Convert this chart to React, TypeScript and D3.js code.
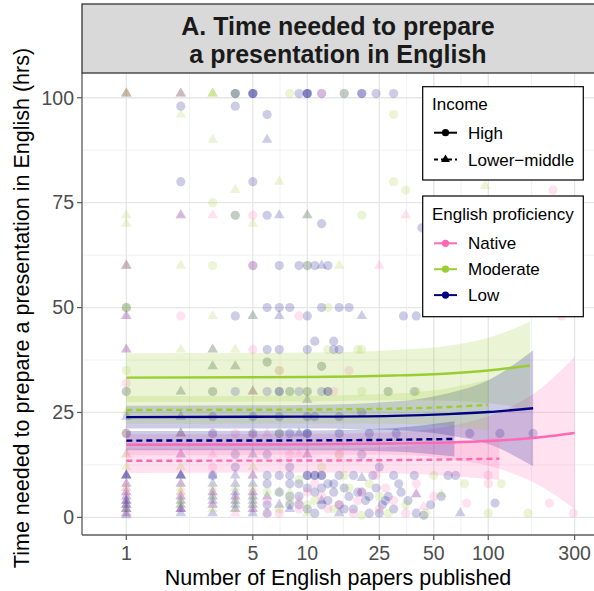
import React from "react";
import * as d3 from "d3";

// ---- chart data ----------------------------------------------------------
const proficiencyLevels = ["Native", "Moderate", "Low"];
const proficiencyColors: Record<string, string> = {
  Native: "#FF69B4",
  Moderate: "#9ACD32",
  Low: "#000080",
};
const incomeLevels = ["High", "Lower\u2212middle"];

const xTicks = [1, 5, 10, 25, 50, 100, 300];
const yTicks = [0, 25, 50, 75, 100];

// Individual responses: [English papers published, hours to prepare]
const highNative: [number, number][] = [
  [12, 101], [5, 72], [228, 78], [5, 60], [2, 48], [9, 48], [254, 48], [5, 40], [7, 35], [17, 35],
  [1, 32], [14, 30], [4, 20], [15, 15], [100, 10], [100, 8], [76, 3.4], [218, 3.4], [295, 1],
  [12, 5], [6, 4], [9, 2], [15, 3], [20, 6], [25, 2], [30, 4], [18, 1], [40, 8], [11, 8], [7, 1],
  [50, 5], [24, 10], [1, 20], [3, 12], [8, 15], [13, 2], [19, 4], [27, 7], [35, 1], [10, 6],
];
const highModerate: [number, number][] = [
  [4, 101], [8, 101], [16, 101], [30, 96], [3, 75], [35, 78], [30, 80], [4, 72], [20, 72], [3, 60],
  [10, 60], [1, 50], [13, 50], [13, 40], [19, 40], [20, 40], [6, 37], [12, 36], [1, 35], [7, 35],
  [3, 30], [8, 30], [10, 30], [20, 30], [28, 30], [40, 30], [1, 30], [1, 20], [7, 20], [15, 15],
  [74, 8], [118, 8], [100, 1], [166, 1], [10, 3], [8, 4], [14, 2], [25, 5], [35, 3], [45, 1],
  [20, 0.5], [12, 12], [6, 6], [9, 9], [16, 10], [50, 10], [22, 8], [28, 1], [11, 4], [17, 7],
  [7, 2],
];
const highLow: [number, number][] = [
  [2, 98], [4, 98], [4, 101], [4, 101], [5, 101], [5, 101], [5, 101], [9, 101], [10, 101], [10, 101],
  [10, 101], [12, 101], [16, 101], [20, 101], [20, 101], [24, 101], [30, 101], [6, 96],
  [2, 80], [5, 80], [4, 72], [6, 72], [12, 70], [43, 69],
  [5, 60], [7, 60], [9, 60], [10, 60], [11, 60], [13, 60],
  [1, 50], [6, 50], [7, 50], [8, 50], [12, 50], [15, 50], [17, 50],
  [4, 48], [10, 48], [34, 48], [40, 48], [11, 42], [14, 42],
  [6, 40], [7, 40], [10, 40], [14, 40], [15, 40], [6, 37], [12, 36],
  [1, 30], [3, 30], [4, 30], [6, 30], [7, 30], [7, 30], [8, 30], [9, 30], [10, 30], [12, 30],
  [13, 30], [13, 30], [28, 30], [39, 30],
  [3, 24], [5, 24], [7, 24], [10, 24], [11, 24], [15, 24], [20, 25],
  [1, 20], [3, 20], [5, 20], [7, 20], [8, 20], [10, 20], [10, 20], [15, 20], [22, 20], [31, 20],
  [79, 20], [116, 20], [177, 20],
  [4, 15], [6, 15], [20, 15], [4, 12], [8, 12], [25, 12],
  [3, 10], [6, 10], [7, 10], [8, 10], [10, 10], [10, 10], [11, 10], [11, 10], [12, 10], [12, 10],
  [15, 10], [18, 10], [23, 10], [30, 10], [39, 10], [60, 10], [66, 10],
  [6, 8], [8, 8], [9, 5], [8, 5], [6, 3], [8, 3], [10, 7], [11, 6], [12, 7], [13, 8], [13, 4],
  [14, 6], [15, 3], [16, 7], [17, 5], [18, 2], [20, 6], [21, 4], [22, 1], [24, 7], [26, 3],
  [28, 5], [30, 2], [33, 6], [36, 4], [40, 1], [44, 0.5], [48, 3], [55, 5], [109, 3.4],
  [9, 8], [10, 2], [11, 1], [12, 3], [14, 8], [16, 2], [19, 6], [22, 5], [25, 1], [27, 4],
  [32, 8], [7, 6], [6, 1], [9, 3],
];
const lowerNative: [number, number][] = [
  [1, 101], [2, 101], [2, 72], [3, 72], [35, 72], [25, 60], [1, 60], [1, 48], [1, 40], [5, 30],
  [2, 20], [5, 20], [6, 20], [1, 15], [2, 15], [3, 15], [9, 15], [10, 15], [3, 20],
  [1, 8], [1, 6], [1, 5], [1, 3], [1, 1], [2, 8], [2, 5], [2, 2], [3, 3], [4, 5], [4, 1],
  [5, 10], [5, 6], [5, 2], [40, 5.5], [44, 2.5], [9, 4], [6, 1], [1, 7], [2, 6], [3, 6],
];
const lowerModerate: [number, number][] = [
  [1, 101], [1, 101], [2, 101], [3, 101], [3, 101], [3, 101], [2, 96], [3, 90], [7, 80], [4, 78],
  [1, 72], [10, 72], [1, 70], [5, 70], [96, 79], [1, 60], [2, 60], [15, 60], [1, 50], [3, 48],
  [5, 48], [2, 40], [3, 40], [4, 40], [3, 36], [4, 36], [2, 30], [5, 30], [1, 25], [2, 20],
  [1, 12], [1, 15], [1, 7], [1, 2], [2, 12], [2, 7], [2, 6], [2, 4], [2, 3], [3, 7], [3, 5],
  [3, 2], [4, 7], [4, 4], [4, 2], [5, 12], [5, 7], [5, 5], [5, 3], [7, 6], [55, 5.5], [10, 1],
  [8, 6],
];
const lowerLow: [number, number][] = [
  [1, 101], [2, 101], [6, 90], [2, 72], [7, 72], [10, 72], [1, 60], [12, 60], [1, 48], [5, 48],
  [7, 48], [20, 48], [1, 40], [3, 40], [3, 36], [4, 36], [2, 30], [5, 30], [10, 28], [1, 24],
  [2, 24], [9, 20], [10, 15], [2, 20],
  [1, 10], [1, 10], [1, 10], [1, 8], [1, 6], [1, 5], [1, 4], [1, 4], [1, 3], [1, 3], [1, 2], [1, 2],
  [1, 1], [1, 0.5],
  [2, 15], [2, 10], [2, 10], [2, 10], [2, 8], [2, 5], [2, 4], [2, 3], [2, 2], [2, 2], [2, 1],
  [3, 8], [3, 6], [3, 5], [3, 4], [3, 3], [3, 1], [3, 10],
  [4, 10], [4, 8], [4, 6], [4, 5], [4, 3], [4, 2], [4, 4],
  [5, 15], [5, 10], [5, 8], [5, 6], [5, 5], [5, 4], [5, 3], [5, 2], [5, 1],
  [6, 5], [7, 3], [8, 2], [20, 9.4], [40, 5.5], [70, 1], [12, 4], [15, 1],
];

// Fitted trends: [papers, fit, lower 95% CI, upper 95% CI]
const fitHighNative: [number, number, number, number][] = [
  [1, 17.3, 14.8, 19.8], [10, 17.4, 14.9, 19.9], [30, 17.6, 14.9, 20.3], [60, 17.85, 14.0, 21.7],
  [100, 18.2, 12.3, 24.1], [200, 19.15, 7.2, 31.1], [300, 20.1, 2.0, 38.2],
];
const fitHighModerate: [number, number, number, number][] = [
  [1, 33.3, 27.5, 39.1], [10, 33.45, 27.6, 39.3], [30, 33.8, 27.9, 39.9], [60, 34.3, 27.8, 40.9],
  [100, 35.0, 27.2, 42.8], [170, 36.2, 25.8, 46.6],
];
const fitHighLow: [number, number, number, number][] = [
  [1, 23.9, 21.2, 26.6], [10, 24.0, 21.2, 26.8], [30, 24.2, 20.8, 27.6], [60, 24.6, 19.6, 29.6],
  [100, 25.1, 17.5, 32.7], [177, 26.0, 12.2, 39.8],
];
const fitLowerNative: [number, number, number, number][] = [
  [1, 13.5, 10.6, 16.4], [10, 13.55, 10.7, 16.4], [30, 13.65, 10.5, 16.8], [60, 13.8, 9.9, 17.7],
  [115, 14.0, 8.9, 19.1],
];
const fitLowerModerate: [number, number, number, number][] = [
  [1, 25.6, 22.3, 28.9], [10, 25.7, 22.4, 29.0], [30, 25.9, 22.3, 29.5], [60, 26.3, 21.8, 30.8],
  [100, 26.8, 20.8, 32.8],
];
const fitLowerLow: [number, number, number, number][] = [
  [1, 18.3, 16.0, 20.6], [10, 18.35, 16.0, 20.7], [30, 18.5, 15.7, 21.3], [65, 18.7, 14.5, 22.9],
];

// ---- layout --------------------------------------------------------------
const W = 594;
const H = 591;
const P = { left: 82, right: 594, top: 73, bottom: 535 };
const FONT = "'Liberation Sans', Arial, Helvetica, sans-serif";

const x = d3.scaleLog().domain([0.569, 384]).range([P.left, P.right]);
const y = d3.scaleLinear().domain([-4.2, 105.9]).range([P.bottom, P.top]);

const xMinor = d3.pairs(xTicks).map(([a, b]) => Math.sqrt(a * b));
const yMinor = d3.pairs(yTicks).map(([a, b]) => (a + b) / 2);

const pointGroups = [
  { data: lowerLow, shape: "tri", prof: "Low" },
  { data: highLow, shape: "circle", prof: "Low" },
  { data: lowerModerate, shape: "tri", prof: "Moderate" },
  { data: highModerate, shape: "circle", prof: "Moderate" },
  { data: lowerNative, shape: "tri", prof: "Native" },
  { data: highNative, shape: "circle", prof: "Native" },
];

const fitGroups = [
  { data: fitHighNative, income: "High", prof: "Native" },
  { data: fitHighModerate, income: "High", prof: "Moderate" },
  { data: fitHighLow, income: "High", prof: "Low" },
  { data: fitLowerNative, income: "Lower\u2212middle", prof: "Native" },
  { data: fitLowerModerate, income: "Lower\u2212middle", prof: "Moderate" },
  { data: fitLowerLow, income: "Lower\u2212middle", prof: "Low" },
];

const triPath = d3.symbol().type(d3.symbolTriangle).size(48)() as string;
const keyTri = d3.symbol().type(d3.symbolTriangle).size(34)() as string;

const ribbon = d3
  .area<[number, number, number, number]>()
  .x((d) => x(d[0]))
  .y0((d) => y(d[2]))
  .y1((d) => y(d[3]))
  .curve(d3.curveMonotoneX);
const fitLine = d3
  .line<[number, number, number, number]>()
  .x((d) => x(d[0]))
  .y((d) => y(d[1]))
  .curve(d3.curveMonotoneX);

export default function App() {
  const legendX = 422.7;
  const keyX0 = 434;
  const keyX1 = 457;
  const keyMid = 445.5;
  const textX = 468;
  return (
    <svg
      width={W}
      height={H}
      viewBox={`0 0 ${W} ${H}`}
      style={{ position: "absolute", left: 0, top: 0, background: "#fff" }}
      fontFamily={FONT}
    >
      <rect x={0} y={0} width={W} height={H} fill="#fff" />
      <defs>
        <clipPath id="panel-clip">
          <rect x={P.left} y={P.top} width={P.right - P.left} height={P.bottom - P.top} />
        </clipPath>
      </defs>

      {/* grid */}
      <g>
        {yMinor.map((v) => (
          <line key={"ym" + v} x1={P.left} x2={P.right} y1={y(v)} y2={y(v)} stroke="#EDEDED" strokeWidth={0.8} />
        ))}
        {xMinor.map((v) => (
          <line key={"xm" + v} x1={x(v)} x2={x(v)} y1={P.top} y2={P.bottom} stroke="#EDEDED" strokeWidth={0.8} />
        ))}
        {yTicks.map((v) => (
          <line key={"yM" + v} x1={P.left} x2={P.right} y1={y(v)} y2={y(v)} stroke="#E6E6E6" strokeWidth={1.3} />
        ))}
        {xTicks.map((v) => (
          <line key={"xM" + v} x1={x(v)} x2={x(v)} y1={P.top} y2={P.bottom} stroke="#E6E6E6" strokeWidth={1.3} />
        ))}
      </g>

      {/* raw responses */}
      <g clipPath="url(#panel-clip)">
        {pointGroups.map((g, gi) =>
          g.data.map((d, i) =>
            g.shape === "circle" ? (
              <circle
                key={gi + "-" + i}
                cx={x(d[0])}
                cy={y(d[1])}
                r={4.6}
                fill={proficiencyColors[g.prof]}
                fillOpacity={0.2}
              />
            ) : (
              <path
                key={gi + "-" + i}
                d={triPath}
                transform={`translate(${x(d[0])},${y(d[1])})`}
                fill={proficiencyColors[g.prof]}
                fillOpacity={0.2}
              />
            )
          )
        )}
      </g>

      {/* confidence ribbons */}
      <g clipPath="url(#panel-clip)">
        {fitGroups.map((g, i) => (
          <path key={"rb" + i} d={ribbon(g.data) as string} fill={proficiencyColors[g.prof]} fillOpacity={0.2} />
        ))}
      </g>

      {/* fitted lines */}
      <g clipPath="url(#panel-clip)">
        {fitGroups.map((g, i) => (
          <path
            key={"ln" + i}
            d={fitLine(g.data) as string}
            fill="none"
            stroke={proficiencyColors[g.prof]}
            strokeWidth={2.4}
            strokeDasharray={g.income === "High" ? undefined : "6 4"}
          />
        ))}
      </g>

      {/* axes */}
      <line x1={P.left} x2={P.left} y1={P.top} y2={P.bottom} stroke="#5A5A5A" strokeWidth={1.3} />
      <line x1={P.left} x2={P.right} y1={P.bottom} y2={P.bottom} stroke="#5A5A5A" strokeWidth={1.3} />
      {yTicks.map((v) => (
        <g key={"yt" + v}>
          <line x1={P.left - 5} x2={P.left} y1={y(v)} y2={y(v)} stroke="#5A5A5A" strokeWidth={1.2} />
          <text x={P.left - 8} y={y(v)} dy="0.35em" textAnchor="end" fontSize={19.5} fill="#4D4D4D">
            {v}
          </text>
        </g>
      ))}
      {xTicks.map((v) => (
        <g key={"xt" + v}>
          <line x1={x(v)} x2={x(v)} y1={P.bottom} y2={P.bottom + 5} stroke="#5A5A5A" strokeWidth={1.2} />
          <text x={x(v)} y={560} textAnchor="middle" fontSize={19.5} fill="#4D4D4D">
            {v}
          </text>
        </g>
      ))}
      <text x={(P.left + P.right) / 2} y={585} textAnchor="middle" fontSize={21.5} fill="#000">
        Number of English papers published
      </text>
      <text transform={`translate(29,${(P.top + P.bottom) / 2 + 4}) rotate(-90)`} textAnchor="middle" fontSize={21.5} fill="#000">
        Time needed to prepare a presentation in English (hrs)
      </text>

      {/* facet strip */}
      <rect x={P.left} y={4} width={W - P.left + 10} height={P.top - 4} fill="#D9D9D9" stroke="#333" strokeWidth={1.3} />
      <text x={(P.left + P.right) / 2} y={35} textAnchor="middle" fontSize={25} fontWeight="bold" fill="#1A1A1A">
        A. Time needed to prepare
      </text>
      <text x={(P.left + P.right) / 2} y={63} textAnchor="middle" fontSize={25} fontWeight="bold" fill="#1A1A1A">
        a presentation in English
      </text>

      {/* legend: income */}
      <g>
        <rect x={legendX} y={86.7} width={160.6} height={93.3} fill="#fff" stroke="#000" strokeWidth={1.2} />
        <text x={432} y={110} fontSize={17} fill="#000">Income</text>
        {incomeLevels.map((lab, i) => {
          const ky = i === 0 ? 132.7 : 159.5;
          return (
            <g key={lab}>
              <line
                x1={keyX0}
                x2={keyX1}
                y1={ky}
                y2={ky}
                stroke="#000"
                strokeWidth={2}
                strokeDasharray={i === 0 ? undefined : "4 3"}
              />
              {i === 0 ? (
                <circle cx={keyMid} cy={ky} r={3.6} fill="#000" />
              ) : (
                <path d={keyTri} transform={`translate(${keyMid},${ky})`} fill="#000" />
              )}
              <text x={textX} y={ky + 6} fontSize={17} fill="#000">
                {lab}
              </text>
            </g>
          );
        })}
      </g>

      {/* legend: proficiency */}
      <g>
        <rect x={legendX} y={196} width={160.6} height={120.7} fill="#fff" stroke="#000" strokeWidth={1.2} />
        <text x={432} y={220} fontSize={17} fill="#000">English proficiency</text>
        {proficiencyLevels.map((lab, i) => {
          const ky = 243.3 + i * 25.9;
          return (
            <g key={lab}>
              <line x1={keyX0} x2={keyX1} y1={ky} y2={ky} stroke={proficiencyColors[lab]} strokeWidth={2} />
              <circle cx={keyMid} cy={ky} r={3.6} fill={proficiencyColors[lab]} />
              <text x={textX} y={ky + 6} fontSize={17} fill="#000">
                {lab}
              </text>
            </g>
          );
        })}
      </g>
    </svg>
  );
}
